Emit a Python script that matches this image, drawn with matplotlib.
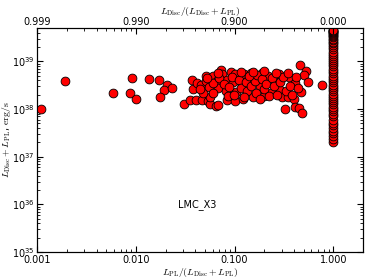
import matplotlib
matplotlib.use('Agg')
import matplotlib.pyplot as plt
import numpy as np
from matplotlib.ticker import FixedLocator, FuncFormatter

plt.rcParams['mathtext.fontset'] = 'cm'

# scattered points: PL fraction, total luminosity (erg/s)
frac_pl = [0.0011, 0.00194, 0.0059, 0.0087, 0.0091, 0.0100, 0.0137, 0.0173, 0.0208, 0.0194,
           0.0232, 0.0176, 0.0310, 0.0356, 0.0408, 0.0468, 0.0532, 0.0562, 0.0645, 0.0675,
           0.0569, 0.0479, 0.0381, 0.0372, 0.0418, 0.0461, 0.0516, 0.0508, 0.0601, 0.0664,
           0.0675, 0.0727, 0.0744, 0.0839, 0.0815, 0.0847, 0.0913, 0.0962, 0.102, 0.104,
           0.1006, 0.119, 0.125, 0.122, 0.139, 0.147, 0.155, 0.174, 0.180, 0.188,
           0.198, 0.219, 0.236, 0.259, 0.281, 0.285, 0.301, 0.320, 0.353, 0.345,
           0.396, 0.409, 0.457, 0.525, 0.505, 0.557, 0.468, 0.409, 0.450, 0.485,
           0.773,
           0.045, 0.055, 0.060, 0.070, 0.078, 0.088, 0.095, 0.110, 0.115, 0.130,
           0.135, 0.145, 0.160, 0.165, 0.170, 0.190, 0.200, 0.210, 0.225, 0.240,
           0.250, 0.270, 0.290, 0.310, 0.330, 0.360, 0.380, 0.420, 0.440, 0.060,
           0.085, 0.125, 0.180, 0.140, 0.099, 0.068, 0.052, 0.260, 0.350, 0.155,
           0.115, 0.200]
lum = [1.0e38, 3.9e38, 2.2e38, 2.2e38, 4.5e38, 1.6e38, 4.3e38, 4.1e38, 3.25e38, 2.55e38,
       2.8e38, 1.8e38, 1.25e38, 1.57e38, 1.55e38, 1.57e38, 1.47e38, 1.25e38, 1.16e38, 1.23e38,
       1.8e38, 2.14e38, 2.67e38, 4.08e38, 3.58e38, 3.2e38, 3.9e38, 4.95e38, 4.9e38, 3.95e38,
       2.73e38, 6.6e38, 5.3e38, 4.08e38, 2.4e38, 1.55e38, 6.1e38, 3.7e38, 5.45e38, 2.25e38,
       1.45e38, 3.2e38, 5.3e38, 1.65e38, 4.64e38, 5.65e38, 1.76e38, 4.5e38, 3.1e38, 5.65e38,
       1.88e38, 5.0e38, 2.14e38, 4.08e38, 5.4e38, 2.5e38, 1.76e38, 9.9e37, 4.8e38, 1.76e38,
       1.65e38, 3.58e38, 8.4e38, 6.3e38, 5.2e38, 3.65e38, 2.31e38, 1.12e38, 1.03e38, 8.1e37,
       3.15e38,
       2.6e38, 2.9e38, 3.5e38, 4.4e38, 3.3e38, 2.9e38, 4.6e38, 4.1e38, 2.7e38, 3.6e38,
       2.4e38, 3.0e38, 3.9e38, 2.2e38, 5.2e38, 4.2e38, 2.6e38, 3.4e38, 1.9e38, 4.4e38,
       3.0e38, 2.0e38, 3.6e38, 4.6e38, 2.4e38, 3.1e38, 2.0e38, 4.6e38, 2.8e38, 2.2e38,
       1.9e38, 1.8e38, 1.6e38, 5.0e38, 2.0e38, 5.6e38, 4.5e38, 5.6e38, 5.8e38, 6.0e38,
       5.9e38, 6.4e38]

# pure power-law column at fraction 1.0
col_lum = [2.0e37, 2.3e37, 2.7e37, 3.1e37, 3.5e37, 4.0e37, 4.6e37, 5.2e37, 6.0e37, 7.0e37,
           8.0e37, 9.0e37, 1.0e38, 1.1e38, 1.25e38, 1.4e38, 1.55e38, 1.7e38, 1.9e38, 2.1e38,
           2.35e38, 2.6e38, 2.9e38, 3.2e38, 3.6e38, 4.0e38, 4.5e38, 5.0e38, 5.6e38, 6.2e38,
           7.0e38, 7.8e38, 8.6e38, 9.5e38, 1.05e39, 1.15e39, 1.3e39, 1.45e39, 1.6e39, 1.8e39,
           2.0e39, 2.2e39, 2.4e39, 2.6e39, 2.8e39, 3.0e39, 3.2e39, 3.4e39, 3.6e39, 3.8e39,
           4.0e39, 4.1e39, 4.2e39, 4.3e39, 4.4e39, 4.5e39, 4.6e39]

bottom_ticks = [0.001, 0.01, 0.1, 1.0]
top_labels = ['0.999', '0.990', '0.900', '0.000']

fig = plt.figure(figsize=(3.74, 2.80), dpi=100)
ax = fig.add_axes([0.099, 0.1, 0.872, 0.8])

ax.scatter(frac_pl, lum, s=40, c='red', edgecolors='black', linewidths=0.6, zorder=3)
ax.scatter([1.0] * len(col_lum), col_lum, s=40, c='red', edgecolors='black', linewidths=0.6, zorder=3)

ax.set_xscale('log')
ax.set_yscale('log')
ax.set_xlim(0.001, 2.0)
ax.set_ylim(1e35, 5e39)

ax.xaxis.set_major_locator(FixedLocator(bottom_ticks))
ax.xaxis.set_major_formatter(FuncFormatter(lambda v, p: '%.3f' % v))
ax.tick_params(which='both', direction='in', labelsize=7, right=True)
ax.tick_params(which='major', length=4, pad=2)
ax.tick_params(which='minor', length=2)

ax.set_xlabel(r'$L_{\rm PL}/(L_{\rm Disc}+L_{\rm PL})$', fontsize=7, labelpad=1)
ax.set_ylabel(r'$L_{\rm Disc}+L_{\rm PL}$, ${\rm erg/s}$', fontsize=7, labelpad=-1)

ax2 = ax.twiny()
ax2.set_xscale('log')
ax2.set_xlim(ax.get_xlim())
ax2.xaxis.set_major_locator(FixedLocator(bottom_ticks))
ax2.set_xticklabels(top_labels)
ax2.tick_params(which='both', direction='in', labelsize=7)
ax2.tick_params(which='major', length=4, pad=1)
ax2.tick_params(which='minor', length=2)
ax2.set_xlabel(r'$L_{\rm Disc}/(L_{\rm Disc}+L_{\rm PL})$', fontsize=7, labelpad=2)

ax.text(0.49, 0.21, 'LMC_X3', transform=ax.transAxes, fontsize=7, ha='center', va='center')

fig.savefig('out.png', dpi=100, facecolor='white')
